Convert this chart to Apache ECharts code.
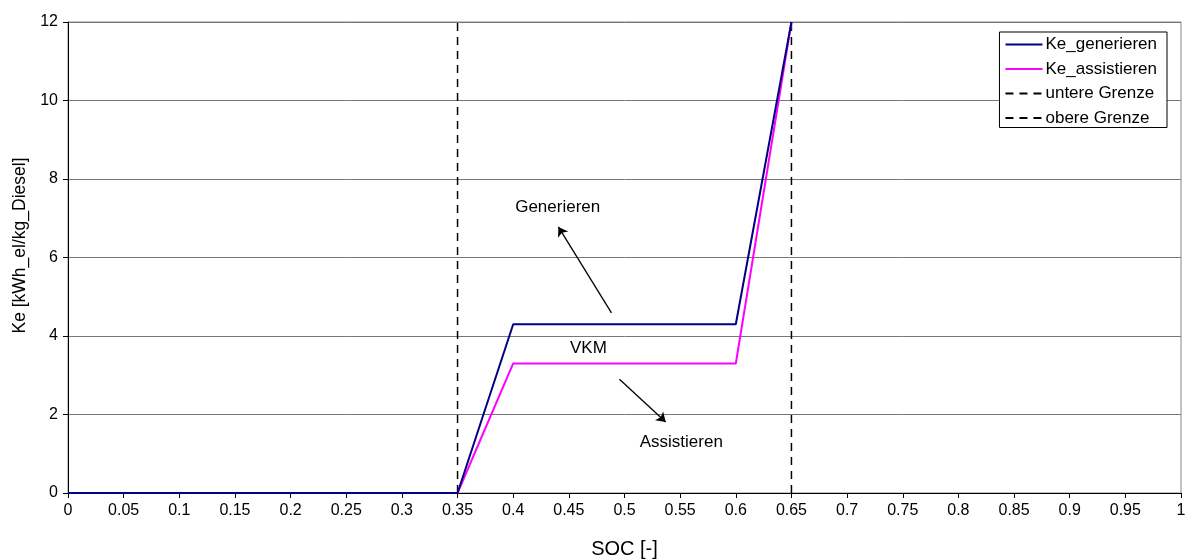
<!DOCTYPE html>
<html>
<head>
<meta charset="utf-8">
<script src="https://cdn.jsdelivr.net/npm/echarts@6/dist/echarts.min.js"></script>
<style>
	html, body {margin: 0; padding: 0; background: #fff;}
	#chart {width: 1188px; height: 559px;}
</style>
</head>
<body>
<div id="chart"></div>
<script>
	// SOC values and Ke curves
	var socPoints = [0, 0.35, 0.4, 0.6, 0.65];
	var keGenerieren = [0, 0, 4.3, 4.3, 12];
	var keAssistieren = [0, 0, 3.3, 3.3, 12];
	var untereGrenze = [[0.35, 0], [0.35, 12]];
	var obereGrenze = [[0.65, 0], [0.65, 12]];

	// annotation texts and arrows (data coords)
	var noteTexts = [
		{name: 'Generieren', value: [0.44, 7.29]},
		{name: 'VKM', value: [0.4676, 3.69]},
		{name: 'Assistieren', value: [0.551, 1.30]}
	];
	var noteArrows = [
		[[0.4883, 4.59], [0.4406, 6.78]],
		[[0.4955, 2.90], [0.537, 1.81]]
	];

	function pairs(xs, ys){
		return xs.map(function(x, i){ return [x, ys[i]]; });
	}

	var font = 'Liberation Sans, Arial, sans-serif';
	var chart = echarts.init(document.getElementById('chart'));

	chart.setOption({
		animation: false,
		textStyle: {fontFamily: font, color: '#000'},
		grid: {left: 68, right: 7, top: 22, bottom: 66, outerBoundsMode: 'none', containLabel: false,
			show: true, borderColor: '#888', borderWidth: 1},
		legend: {
			orient: 'vertical',
			right: 21,
			top: 32,
			itemWidth: 37,
			itemHeight: 14,
			itemGap: 7.5,
			padding: [4, 10, 1, 5],
			backgroundColor: '#fff',
			borderColor: '#000',
			borderWidth: 1,
			borderRadius: 0,
			align: 'left',
			itemStyle: {opacity: 0},
			textStyle: {fontFamily: font, fontSize: 17, color: '#000', padding: [0, 0, 0, -2]},
			data: ['Ke_generieren', 'Ke_assistieren', 'untere Grenze', 'obere Grenze']
		},
		xAxis: {
			type: 'value',
			min: 0,
			max: 1,
			interval: 0.05,
			name: 'SOC [-]',
			nameLocation: 'middle',
			nameGap: 46,
			nameTextStyle: {fontFamily: font, fontSize: 20, color: '#000'},
			axisLine: {onZero: false, lineStyle: {color: '#000'}},
			axisTick: {show: true, length: 5, lineStyle: {color: '#000'}},
			axisLabel: {fontFamily: font, fontSize: 16, color: '#000', margin: 10},
			splitLine: {show: false}
		},
		yAxis: {
			type: 'value',
			min: 0,
			max: 12,
			interval: 2,
			name: 'Ke [kWh_el/kg_Diesel]',
			nameLocation: 'middle',
			nameGap: 38,
			nameTextStyle: {fontFamily: font, fontSize: 17.5, color: '#000', padding: [0, 0, 0, 24]},
			axisLine: {show: true, lineStyle: {color: '#000'}},
			axisTick: {show: true, length: 5, lineStyle: {color: '#000'}},
			axisLabel: {fontFamily: font, fontSize: 16, color: '#000', margin: 10},
			splitLine: {show: true, lineStyle: {color: '#777', width: 1}}
		},
		series: [
			{
				name: 'Ke_generieren', type: 'line', symbol: 'none',
				data: pairs(socPoints, keGenerieren),
				itemStyle: {color: '#000080'},
				lineStyle: {color: '#000080', width: 2}, z: 4
			},
			{
				name: 'Ke_assistieren', type: 'line', symbol: 'none',
				data: pairs(socPoints, keAssistieren),
				itemStyle: {color: '#ff00ff'},
				lineStyle: {color: '#ff00ff', width: 2}, z: 3
			},
			{
				name: 'untere Grenze', type: 'line', symbol: 'none',
				data: untereGrenze,
				itemStyle: {color: '#000'},
				lineStyle: {color: '#000', width: 1.5, type: [8, 6]}, z: 2
			},
			{
				name: 'obere Grenze', type: 'line', symbol: 'none',
				data: obereGrenze,
				itemStyle: {color: '#000'},
				lineStyle: {color: '#000', width: 1.5, type: [8, 6]}, z: 2
			},
			{
				type: 'scatter', symbolSize: 0, silent: true,
				data: noteTexts,
				itemStyle: {opacity: 1, color: '#000'},
				label: {show: true, position: 'inside', formatter: '{b}', fontFamily: font, fontSize: 17, color: '#000'}
			},
			{
				type: 'lines', coordinateSystem: 'cartesian2d', silent: true,
				symbol: ['none', 'arrow'], symbolSize: 9,
				lineStyle: {color: '#000', width: 1.3, opacity: 1},
				data: noteArrows.map(function(c){ return {coords: c}; }),
				z: 5
			}
		]
	});
</script>
</body>
</html>
